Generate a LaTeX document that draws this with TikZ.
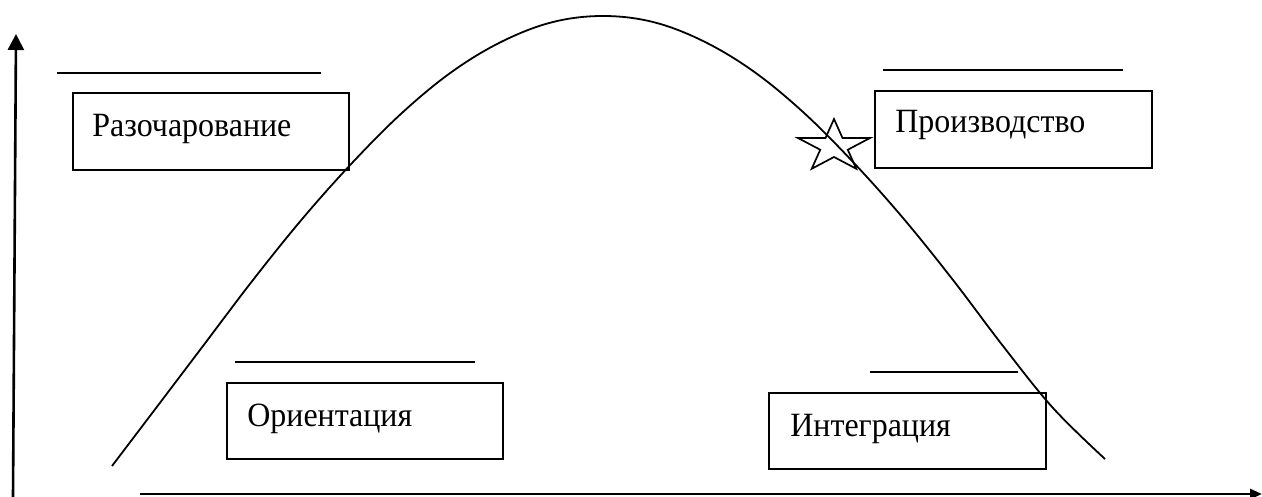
\documentclass[tikz,border=0pt]{standalone}
\usepackage{fontspec}
\setmainfont{Liberation Serif}
\usetikzlibrary{arrows.meta}
\begin{document}
\begin{tikzpicture}[x=0.5pt,y=-0.5pt,
  box/.style={draw, line width=0.85pt, anchor=north west, inner sep=0pt},
  label/.style={anchor=base west, inner sep=0pt, xscale=0.94, transform shape, font=\fontsize{17}{21}\selectfont},
  bar/.style={line width=0.9pt},
  curve/.style={line width=0.9pt},
  axis/.style={line width=1.3pt}]
\useasboundingbox (0,0) rectangle (1262,497);
% axes
\coordinate (yb) at (13,497);
\coordinate (yt) at (16,34);
\coordinate (xl) at (140,494);
\coordinate (xr) at (1262,494);
\draw[axis, -{Triangle[width=8pt,length=8pt]}] (yb) -- (yt);
\draw[axis, -{Triangle[width=5pt,length=6pt]}] (xl) -- (xr);
% bell curve
\draw[curve] plot[smooth, tension=0.6] coordinates {
 (112,466) (153,412) (203,346) (253,280) (303,218) (353,162) (403,112)
 (453,71) (503,41) (553,22) (603,16) (653,22) (703,41) (753,71) (803,112)
 (853,162) (903,218) (953,280) (1003,346) (1053,408) (1105,459)};
% boxes
\node[box, minimum width=138pt, minimum height=38.5pt] (b1) at (72,92) {};
\node[label] (t1) at (92,137) {Разочарование};
\node[box, minimum width=138pt, minimum height=38pt] (b2) at (226,382) {};
\node[label] (t2) at (247,426) {Ориентация};
\node[box, minimum width=138.5pt, minimum height=38.5pt] (b3) at (874,90) {};
\node[label] (t3) at (895,133) {Производство};
\node[box, minimum width=138.5pt, minimum height=38pt] (b4) at (768,392) {};
\node[label] (t4) at (790,436) {Интеграция};
% lines above boxes
\draw[bar] (57,73) -- (321,73);
\draw[bar] (235,362) -- (475,362);
\draw[bar] (883,70) -- (1123,70);
\draw[bar] (870,372) -- (1018,372);
% star
\draw[line width=0.85pt, shift={(834,146.5)}, xscale=37.9, yscale=-27.5]
  (90:1) -- (126:0.382) -- (162:1) -- (198:0.382) -- (234:1) -- (270:0.382)
  -- (306:1) -- (342:0.382) -- (18:1) -- (54:0.382) -- cycle;
\end{tikzpicture}
\end{document}
